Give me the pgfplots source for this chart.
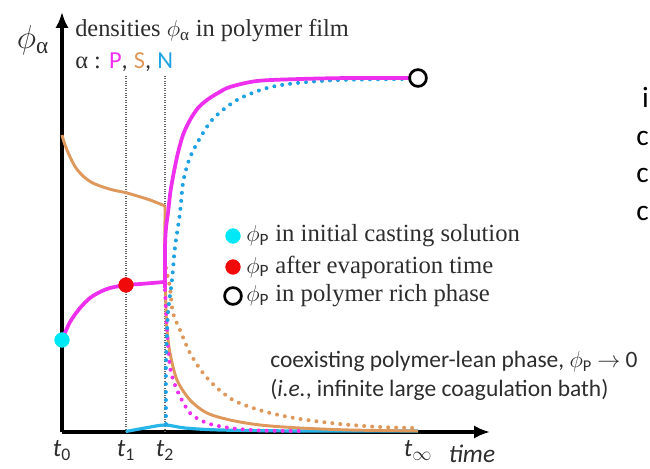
\documentclass[border=0pt]{standalone}
\usepackage{pgfplots}
\pgfplotsset{compat=1.18}
\usepackage{fontspec}
\setmainfont{Liberation Serif}
\setsansfont{Carlito}
\usetikzlibrary{arrows.meta}
\definecolor{cmag}{RGB}{238,48,238}
\definecolor{corange}{RGB}{222,152,92}
\definecolor{cbluedot}{RGB}{30,162,228}
\definecolor{ccyanline}{RGB}{40,182,232}
\definecolor{ccyanmark}{RGB}{0,232,245}
\definecolor{cred}{RGB}{240,10,10}
\definecolor{ctext}{RGB}{45,45,45}
\newcommand{\phiP}{$\phi$\textsubscript{\sffamily P}}
\begin{document}
\begin{tikzpicture}
\begin{axis}[
  scale only axis,
  width=321pt, height=315pt,
  xmin=62, xmax=490, ymin=36, ymax=456,
  axis lines=left,
  axis line style={line width=3pt, black},
  x axis line style={-{Latex[length=12pt,width=10pt]}},
  y axis line style={-{Latex[length=12pt,width=10pt]}},
  xtick={62,126,165,418},
  xticklabels={\textit{t}\textsubscript{0},\textit{t}\textsubscript{1},\textit{t}\textsubscript{2},\textit{t}\textsubscript{$\infty$}},
  xticklabel style={font=\sffamily\fontsize{19}{21}\selectfont, text=ctext, yshift=-3pt},
  major tick length=0pt,
  ytick=\empty,
  clip=false,
]
% guide lines
\addplot[densely dotted, line width=0.8pt, color=black!60] coordinates {(126,36) (126,393)};
\addplot[densely dotted, line width=0.8pt, color=black!60] coordinates {(165,36) (165,393)};
% N lean (solid cyan)
\addplot[ccyanline, line width=2.4pt, smooth] coordinates {(126,36.5) (145,40) (165,43) (185,40) (220,38) (300,37) (418,37)};
% S evaporation and lean (solid orange)
\addplot[corange, line width=2.2pt, smooth] coordinates {(62,333) (64,326) (67,318) (71,309) (76,300) (83,292) (91,286) (100,282) (113,278) (127,275) (150,268) (165,262)};
\addplot[corange, line width=2.2pt, smooth] coordinates {(165,262) (165,200) (166,160) (167,138) (170,115) (177,88) (190,68) (207,55) (230,48) (260,43) (300,40) (350,38) (418,37)};
% S dotted
\addplot[corange, line width=3pt, line cap=round, dash pattern=on 0pt off 6pt, smooth] coordinates {(166,200) (168,190) (170,180) (173,155) (180,138) (190,115) (203,95) (217,80) (233,68) (250,61) (270,55) (300,49) (340,44) (380,41) (418,40)};
% P lean dotted
\addplot[cmag, line width=3pt, line cap=round, dash pattern=on 0pt off 6pt, smooth] coordinates {(165,178) (166,158) (167,138) (170,101) (177,78) (190,55) (207,45) (230,40) (260,37.5) (300,37)};
% N rich dotted
\addplot[cbluedot, line width=3pt, line cap=round, dash pattern=on 0pt off 6pt, smooth] coordinates {(166,44) (166,105) (168,155) (172,188) (175,221) (180,255) (183,285) (188,305) (195,321) (212,348) (237,368) (267,380) (297,385) (340,388) (410,389)};
% P evaporation and rich (solid magenta)
\addplot[cmag, line width=2.8pt, smooth] coordinates {(62,128) (70,146) (80,160) (90,170) (100,176) (110,180) (126,183) (140,184) (164,186)};
\addplot[cmag, line width=2.8pt] coordinates {(165,180) (165,186)};
\addplot[cmag, line width=2.8pt, smooth] coordinates {(165,180) (165,220) (166,240) (168,255) (171,280) (177,311) (183,333) (190,348) (198,360) (207,368) (218,375) (230,381) (257,387) (300,389) (350,390) (418,390)};
% markers
\addplot[only marks, mark=*, mark size=5.5pt, color=ccyanmark] coordinates {(62,128) (233,232)};
\addplot[only marks, mark=*, mark size=5.5pt, color=cred] coordinates {(126,183) (233,201)};
\addplot[only marks, mark=*, mark size=6.3pt, draw=black, fill=white, line width=2pt] coordinates {(418,390) (233,172)};
% texts
\node[anchor=center, font=\fontsize{25}{27}\selectfont, text=ctext] at (axis cs:33,428) {$\phi$\textsubscript{α}};
\node[anchor=west, font=\fontsize{18.3}{20}\selectfont, text=ctext, inner sep=0pt] at (axis cs:75,437) {densities $\phi$\textsubscript{α} in polymer film};
\node[anchor=west, font=\fontsize{18.3}{20}\selectfont, text=ctext, inner sep=0pt] at (axis cs:75,406) {α : {\sffamily\color{cmag}P}{\sffamily,} {\sffamily\color{corange}S}{\sffamily,} {\sffamily\color{cbluedot}N}};
\node[anchor=west, font=\fontsize{18.5}{20}\selectfont, text=ctext, inner sep=0pt] at (axis cs:246,232) {\phiP\ in initial casting solution};
\node[anchor=west, font=\fontsize{18.5}{20}\selectfont, text=ctext, inner sep=0pt] at (axis cs:246,201) {\phiP\ after evaporation time};
\node[anchor=west, font=\fontsize{18.5}{20}\selectfont, text=ctext, inner sep=0pt] at (axis cs:246,172) {\phiP\ in polymer rich phase};
\node[anchor=west, font=\sffamily\fontsize{17.6}{19}\selectfont, text=ctext, inner sep=0pt] at (axis cs:270,106) {coexisting polymer-lean phase, {\rmfamily\phiP} $\rightarrow$ 0};
\node[anchor=west, font=\sffamily\fontsize{17.6}{19}\selectfont, text=ctext, inner sep=0pt] at (axis cs:270,78) {(\textit{i.e.}, infinite large coagulation bath)};
\node[anchor=center, font=\sffamily\itshape\fontsize{19}{21}\selectfont, text=ctext] at (axis cs:472,14) {time};
\node[anchor=east, font=\sffamily\fontsize{22}{24}\selectfont, text=black, inner sep=0pt] at (axis cs:649,371) {i};
\node[anchor=east, font=\sffamily\fontsize{22}{24}\selectfont, text=black, inner sep=0pt] at (axis cs:649,330) {c};
\node[anchor=east, font=\sffamily\fontsize{22}{24}\selectfont, text=black, inner sep=0pt] at (axis cs:649,293) {c};
\node[anchor=east, font=\sffamily\fontsize{22}{24}\selectfont, text=black, inner sep=0pt] at (axis cs:649,255) {c};
\coordinate (BL) at (axis cs:0,0);
\coordinate (TR) at (axis cs:650,468);
\end{axis}
\pgfresetboundingbox
\path (BL) rectangle (TR);
\end{tikzpicture}
\end{document}
